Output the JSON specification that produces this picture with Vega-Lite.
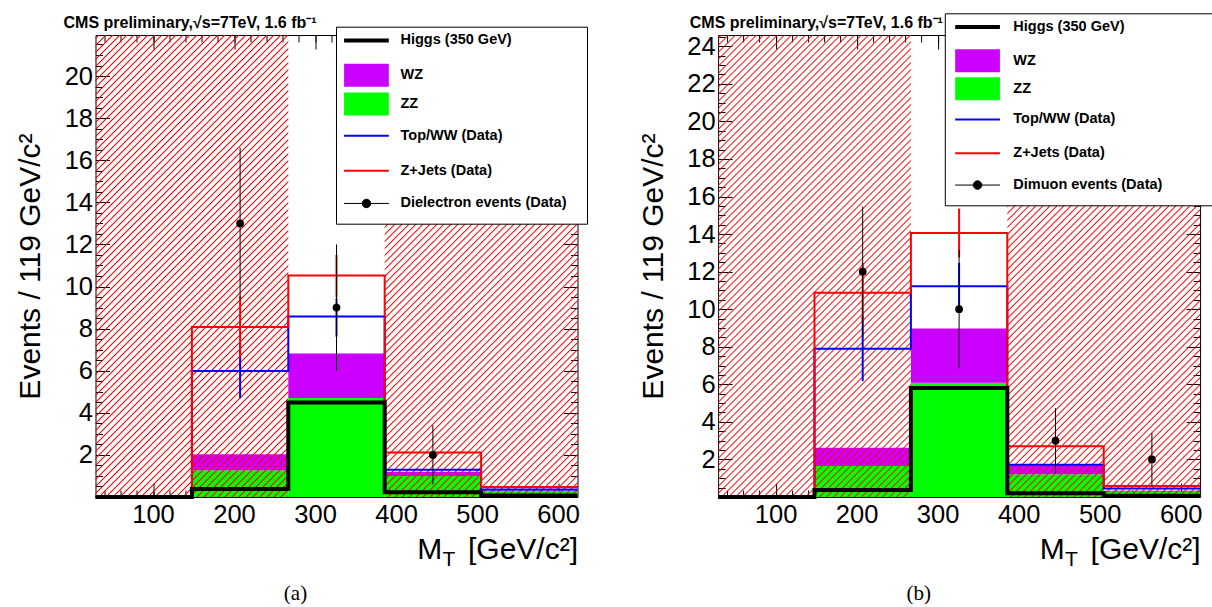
{
"$schema":"https://vega.github.io/schema/vega-lite/v6.json",
"background":"white",
"padding":{"left":15.5,"top":12,"right":0,"bottom":0},
"spacing":140.6,
"bounds":"flush",
"params":[{"name":"hatch","value":{"gradient":"linear","x1":0,"y1":0,"x2":0.5037,"y2":1.2071,"stops":[
{"offset":0.0032,"color":"#f000"},{"offset":0.0053,"color":"#f00"},{"offset":0.0074,"color":"#f000"},
{"offset":0.0139,"color":"#f000"},{"offset":0.016,"color":"#f00"},{"offset":0.0181,"color":"#f000"},
{"offset":0.0246,"color":"#f000"},{"offset":0.0267,"color":"#f00"},{"offset":0.0288,"color":"#f000"},
{"offset":0.0353,"color":"#f000"},{"offset":0.0374,"color":"#f00"},{"offset":0.0395,"color":"#f000"},
{"offset":0.046,"color":"#f000"},{"offset":0.0481,"color":"#f00"},{"offset":0.0502,"color":"#f000"},
{"offset":0.0567,"color":"#f000"},{"offset":0.0588,"color":"#f00"},{"offset":0.0609,"color":"#f000"},
{"offset":0.0673,"color":"#f000"},{"offset":0.0694,"color":"#f00"},{"offset":0.0715,"color":"#f000"},
{"offset":0.078,"color":"#f000"},{"offset":0.0801,"color":"#f00"},{"offset":0.0822,"color":"#f000"},
{"offset":0.0887,"color":"#f000"},{"offset":0.0908,"color":"#f00"},{"offset":0.0929,"color":"#f000"},
{"offset":0.0994,"color":"#f000"},{"offset":0.1015,"color":"#f00"},{"offset":0.1036,"color":"#f000"},
{"offset":0.1101,"color":"#f000"},{"offset":0.1122,"color":"#f00"},{"offset":0.1143,"color":"#f000"},
{"offset":0.1208,"color":"#f000"},{"offset":0.1229,"color":"#f00"},{"offset":0.125,"color":"#f000"},
{"offset":0.1315,"color":"#f000"},{"offset":0.1336,"color":"#f00"},{"offset":0.1357,"color":"#f000"},
{"offset":0.1422,"color":"#f000"},{"offset":0.1443,"color":"#f00"},{"offset":0.1464,"color":"#f000"},
{"offset":0.1529,"color":"#f000"},{"offset":0.155,"color":"#f00"},{"offset":0.1571,"color":"#f000"},
{"offset":0.1636,"color":"#f000"},{"offset":0.1657,"color":"#f00"},{"offset":0.1678,"color":"#f000"},
{"offset":0.1742,"color":"#f000"},{"offset":0.1763,"color":"#f00"},{"offset":0.1784,"color":"#f000"},
{"offset":0.1849,"color":"#f000"},{"offset":0.187,"color":"#f00"},{"offset":0.1891,"color":"#f000"},
{"offset":0.1956,"color":"#f000"},{"offset":0.1977,"color":"#f00"},{"offset":0.1998,"color":"#f000"},
{"offset":0.2063,"color":"#f000"},{"offset":0.2084,"color":"#f00"},{"offset":0.2105,"color":"#f000"},
{"offset":0.217,"color":"#f000"},{"offset":0.2191,"color":"#f00"},{"offset":0.2212,"color":"#f000"},
{"offset":0.2277,"color":"#f000"},{"offset":0.2298,"color":"#f00"},{"offset":0.2319,"color":"#f000"},
{"offset":0.2384,"color":"#f000"},{"offset":0.2405,"color":"#f00"},{"offset":0.2426,"color":"#f000"},
{"offset":0.2491,"color":"#f000"},{"offset":0.2512,"color":"#f00"},{"offset":0.2533,"color":"#f000"},
{"offset":0.2598,"color":"#f000"},{"offset":0.2619,"color":"#f00"},{"offset":0.264,"color":"#f000"},
{"offset":0.2705,"color":"#f000"},{"offset":0.2726,"color":"#f00"},{"offset":0.2747,"color":"#f000"},
{"offset":0.2811,"color":"#f000"},{"offset":0.2832,"color":"#f00"},{"offset":0.2853,"color":"#f000"},
{"offset":0.2918,"color":"#f000"},{"offset":0.2939,"color":"#f00"},{"offset":0.296,"color":"#f000"},
{"offset":0.3025,"color":"#f000"},{"offset":0.3046,"color":"#f00"},{"offset":0.3067,"color":"#f000"},
{"offset":0.3132,"color":"#f000"},{"offset":0.3153,"color":"#f00"},{"offset":0.3174,"color":"#f000"},
{"offset":0.3239,"color":"#f000"},{"offset":0.326,"color":"#f00"},{"offset":0.3281,"color":"#f000"},
{"offset":0.3346,"color":"#f000"},{"offset":0.3367,"color":"#f00"},{"offset":0.3388,"color":"#f000"},
{"offset":0.3453,"color":"#f000"},{"offset":0.3474,"color":"#f00"},{"offset":0.3495,"color":"#f000"},
{"offset":0.356,"color":"#f000"},{"offset":0.3581,"color":"#f00"},{"offset":0.3602,"color":"#f000"},
{"offset":0.3667,"color":"#f000"},{"offset":0.3688,"color":"#f00"},{"offset":0.3709,"color":"#f000"},
{"offset":0.3774,"color":"#f000"},{"offset":0.3795,"color":"#f00"},{"offset":0.3816,"color":"#f000"},
{"offset":0.388,"color":"#f000"},{"offset":0.3901,"color":"#f00"},{"offset":0.3922,"color":"#f000"},
{"offset":0.3987,"color":"#f000"},{"offset":0.4008,"color":"#f00"},{"offset":0.4029,"color":"#f000"},
{"offset":0.4094,"color":"#f000"},{"offset":0.4115,"color":"#f00"},{"offset":0.4136,"color":"#f000"},
{"offset":0.4201,"color":"#f000"},{"offset":0.4222,"color":"#f00"},{"offset":0.4243,"color":"#f000"},
{"offset":0.4308,"color":"#f000"},{"offset":0.4329,"color":"#f00"},{"offset":0.435,"color":"#f000"},
{"offset":0.4415,"color":"#f000"},{"offset":0.4436,"color":"#f00"},{"offset":0.4457,"color":"#f000"},
{"offset":0.4522,"color":"#f000"},{"offset":0.4543,"color":"#f00"},{"offset":0.4564,"color":"#f000"},
{"offset":0.4629,"color":"#f000"},{"offset":0.465,"color":"#f00"},{"offset":0.4671,"color":"#f000"},
{"offset":0.4736,"color":"#f000"},{"offset":0.4757,"color":"#f00"},{"offset":0.4778,"color":"#f000"},
{"offset":0.4843,"color":"#f000"},{"offset":0.4864,"color":"#f00"},{"offset":0.4885,"color":"#f000"},
{"offset":0.4949,"color":"#f000"},{"offset":0.497,"color":"#f00"},{"offset":0.4991,"color":"#f000"},
{"offset":0.5056,"color":"#f000"},{"offset":0.5077,"color":"#f00"},{"offset":0.5098,"color":"#f000"},
{"offset":0.5163,"color":"#f000"},{"offset":0.5184,"color":"#f00"},{"offset":0.5205,"color":"#f000"},
{"offset":0.527,"color":"#f000"},{"offset":0.5291,"color":"#f00"},{"offset":0.5312,"color":"#f000"},
{"offset":0.5377,"color":"#f000"},{"offset":0.5398,"color":"#f00"},{"offset":0.5419,"color":"#f000"},
{"offset":0.5484,"color":"#f000"},{"offset":0.5505,"color":"#f00"},{"offset":0.5526,"color":"#f000"},
{"offset":0.5591,"color":"#f000"},{"offset":0.5612,"color":"#f00"},{"offset":0.5633,"color":"#f000"},
{"offset":0.5698,"color":"#f000"},{"offset":0.5719,"color":"#f00"},{"offset":0.574,"color":"#f000"},
{"offset":0.5805,"color":"#f000"},{"offset":0.5826,"color":"#f00"},{"offset":0.5847,"color":"#f000"},
{"offset":0.5912,"color":"#f000"},{"offset":0.5933,"color":"#f00"},{"offset":0.5954,"color":"#f000"},
{"offset":0.6018,"color":"#f000"},{"offset":0.6039,"color":"#f00"},{"offset":0.606,"color":"#f000"},
{"offset":0.6125,"color":"#f000"},{"offset":0.6146,"color":"#f00"},{"offset":0.6167,"color":"#f000"},
{"offset":0.6232,"color":"#f000"},{"offset":0.6253,"color":"#f00"},{"offset":0.6274,"color":"#f000"},
{"offset":0.6339,"color":"#f000"},{"offset":0.636,"color":"#f00"},{"offset":0.6381,"color":"#f000"},
{"offset":0.6446,"color":"#f000"},{"offset":0.6467,"color":"#f00"},{"offset":0.6488,"color":"#f000"},
{"offset":0.6553,"color":"#f000"},{"offset":0.6574,"color":"#f00"},{"offset":0.6595,"color":"#f000"},
{"offset":0.666,"color":"#f000"},{"offset":0.6681,"color":"#f00"},{"offset":0.6702,"color":"#f000"},
{"offset":0.6767,"color":"#f000"},{"offset":0.6788,"color":"#f00"},{"offset":0.6809,"color":"#f000"},
{"offset":0.6874,"color":"#f000"},{"offset":0.6895,"color":"#f00"},{"offset":0.6916,"color":"#f000"},
{"offset":0.6981,"color":"#f000"},{"offset":0.7002,"color":"#f00"},{"offset":0.7023,"color":"#f000"},
{"offset":0.7087,"color":"#f000"},{"offset":0.7108,"color":"#f00"},{"offset":0.7129,"color":"#f000"},
{"offset":0.7194,"color":"#f000"},{"offset":0.7215,"color":"#f00"},{"offset":0.7236,"color":"#f000"},
{"offset":0.7301,"color":"#f000"},{"offset":0.7322,"color":"#f00"},{"offset":0.7343,"color":"#f000"},
{"offset":0.7408,"color":"#f000"},{"offset":0.7429,"color":"#f00"},{"offset":0.745,"color":"#f000"},
{"offset":0.7515,"color":"#f000"},{"offset":0.7536,"color":"#f00"},{"offset":0.7557,"color":"#f000"},
{"offset":0.7622,"color":"#f000"},{"offset":0.7643,"color":"#f00"},{"offset":0.7664,"color":"#f000"},
{"offset":0.7729,"color":"#f000"},{"offset":0.775,"color":"#f00"},{"offset":0.7771,"color":"#f000"},
{"offset":0.7836,"color":"#f000"},{"offset":0.7857,"color":"#f00"},{"offset":0.7878,"color":"#f000"},
{"offset":0.7943,"color":"#f000"},{"offset":0.7964,"color":"#f00"},{"offset":0.7985,"color":"#f000"},
{"offset":0.805,"color":"#f000"},{"offset":0.8071,"color":"#f00"},{"offset":0.8092,"color":"#f000"},
{"offset":0.8156,"color":"#f000"},{"offset":0.8177,"color":"#f00"},{"offset":0.8198,"color":"#f000"},
{"offset":0.8263,"color":"#f000"},{"offset":0.8284,"color":"#f00"},{"offset":0.8305,"color":"#f000"},
{"offset":0.837,"color":"#f000"},{"offset":0.8391,"color":"#f00"},{"offset":0.8412,"color":"#f000"},
{"offset":0.8477,"color":"#f000"},{"offset":0.8498,"color":"#f00"},{"offset":0.8519,"color":"#f000"},
{"offset":0.8584,"color":"#f000"},{"offset":0.8605,"color":"#f00"},{"offset":0.8626,"color":"#f000"},
{"offset":0.8691,"color":"#f000"},{"offset":0.8712,"color":"#f00"},{"offset":0.8733,"color":"#f000"},
{"offset":0.8798,"color":"#f000"},{"offset":0.8819,"color":"#f00"},{"offset":0.884,"color":"#f000"},
{"offset":0.8905,"color":"#f000"},{"offset":0.8926,"color":"#f00"},{"offset":0.8947,"color":"#f000"},
{"offset":0.9012,"color":"#f000"},{"offset":0.9033,"color":"#f00"},{"offset":0.9054,"color":"#f000"},
{"offset":0.9119,"color":"#f000"},{"offset":0.914,"color":"#f00"},{"offset":0.9161,"color":"#f000"},
{"offset":0.9225,"color":"#f000"},{"offset":0.9246,"color":"#f00"},{"offset":0.9267,"color":"#f000"},
{"offset":0.9332,"color":"#f000"},{"offset":0.9353,"color":"#f00"},{"offset":0.9374,"color":"#f000"},
{"offset":0.9439,"color":"#f000"},{"offset":0.946,"color":"#f00"},{"offset":0.9481,"color":"#f000"},
{"offset":0.9546,"color":"#f000"},{"offset":0.9567,"color":"#f00"},{"offset":0.9588,"color":"#f000"},
{"offset":0.9653,"color":"#f000"},{"offset":0.9674,"color":"#f00"},{"offset":0.9695,"color":"#f000"},
{"offset":0.976,"color":"#f000"},{"offset":0.9781,"color":"#f00"},{"offset":0.9802,"color":"#f000"},
{"offset":0.9867,"color":"#f000"},{"offset":0.9888,"color":"#f00"},{"offset":0.9909,"color":"#f000"},
{"offset":0.9974,"color":"#f000"},{"offset":0.9995,"color":"#f00"},{"offset":1,"color":"#f000"}
]}}],
"resolve":{"scale":{"color":"independent"},"legend":{"color":"independent"}},
"datasets":{
"fa":[{"series":"ZZ","lo":148,"hi":267,"b":0,"t":1.27},{"series":"ZZ","lo":267,"hi":386,"b":0,"t":4.7},{"series":"ZZ","lo":386,"hi":505,"b":0,"t":1.0},{"series":"ZZ","lo":505,"hi":624,"b":0,"t":0.27},{"series":"WZ","lo":148,"hi":267,"b":1.27,"t":2.03},{"series":"WZ","lo":267,"hi":386,"b":4.7,"t":6.82},{"series":"WZ","lo":386,"hi":505,"b":1.0,"t":1.2},{"series":"WZ","lo":505,"hi":624,"b":0.27,"t":0.31}],
"fb":[{"series":"ZZ","lo":148,"hi":267,"b":0,"t":1.65},{"series":"ZZ","lo":267,"hi":386,"b":0,"t":6.08},{"series":"ZZ","lo":386,"hi":505,"b":0,"t":1.21},{"series":"ZZ","lo":505,"hi":624,"b":0,"t":0.28},{"series":"WZ","lo":148,"hi":267,"b":1.65,"t":2.62},{"series":"WZ","lo":267,"hi":386,"b":6.08,"t":8.97},{"series":"WZ","lo":386,"hi":505,"b":1.21,"t":1.69},{"series":"WZ","lo":505,"hi":624,"b":0.28,"t":0.33}],
"ha":[{"lo":29,"hi":267,"b":0,"t":21.95},{"lo":386,"hi":624,"b":0,"t":21.95}],
"hb":[{"lo":29,"hi":267,"b":0,"t":24.6},{"lo":386,"hi":624,"b":0,"t":24.6}],
"sa":[{"s":"Top/WW (Data)","e":29,"v":0},{"s":"Top/WW (Data)","e":148,"v":5.99},{"s":"Top/WW (Data)","e":267,"v":8.57},{"s":"Top/WW (Data)","e":386,"v":1.3},{"s":"Top/WW (Data)","e":505,"v":0.36},{"s":"Top/WW (Data)","e":624,"v":0.36},
{"s":"Z+Jets (Data)","e":29,"v":0},{"s":"Z+Jets (Data)","e":148,"v":8.08},{"s":"Z+Jets (Data)","e":267,"v":10.52},{"s":"Z+Jets (Data)","e":386,"v":2.11},{"s":"Z+Jets (Data)","e":505,"v":0.47},{"s":"Z+Jets (Data)","e":624,"v":0.47},
{"s":"Higgs","e":29,"v":0},{"s":"Higgs","e":148,"v":0.38},{"s":"Higgs","e":267,"v":4.49},{"s":"Higgs","e":386,"v":0.22},{"s":"Higgs","e":505,"v":0.07},{"s":"Higgs","e":624,"v":0.07}],
"sb":[{"s":"Top/WW (Data)","e":29,"v":0},{"s":"Top/WW (Data)","e":148,"v":7.89},{"s":"Top/WW (Data)","e":267,"v":11.22},{"s":"Top/WW (Data)","e":386,"v":1.72},{"s":"Top/WW (Data)","e":505,"v":0.45},{"s":"Top/WW (Data)","e":624,"v":0.45},
{"s":"Z+Jets (Data)","e":29,"v":0},{"s":"Z+Jets (Data)","e":148,"v":10.87},{"s":"Z+Jets (Data)","e":267,"v":14.06},{"s":"Z+Jets (Data)","e":386,"v":2.7},{"s":"Z+Jets (Data)","e":505,"v":0.59},{"s":"Z+Jets (Data)","e":624,"v":0.59},
{"s":"Higgs","e":29,"v":0},{"s":"Higgs","e":148,"v":0.37},{"s":"Higgs","e":267,"v":5.81},{"s":"Higgs","e":386,"v":0.2},{"s":"Higgs","e":505,"v":0.07},{"s":"Higgs","e":624,"v":0.07}],
"ea":[{"s":"Top/WW (Data)","x":207.5,"lo":4.69,"hi":7.29},{"s":"Z+Jets (Data)","x":207.5,"lo":6.63,"hi":9.53},{"s":"Top/WW (Data)","x":326.5,"lo":7.62,"hi":9.44},{"s":"Z+Jets (Data)","x":326.5,"lo":9.5,"hi":11.5},{"s":"data","x":207.5,"lo":9.4,"hi":16.6,"v":13},{"s":"data","x":326.5,"lo":6,"hi":12,"v":9},{"s":"data","x":445.5,"lo":0.59,"hi":3.41,"v":2}],
"eb":[{"s":"Top/WW (Data)","x":207.5,"lo":6.17,"hi":9.61},{"s":"Z+Jets (Data)","x":207.5,"lo":9.3,"hi":12.45},{"s":"Top/WW (Data)","x":326.5,"lo":9.98,"hi":12.46},{"s":"Z+Jets (Data)","x":326.5,"lo":12.76,"hi":15.36},{"s":"data","x":207.5,"lo":8.54,"hi":15.46,"v":12},{"s":"data","x":326.5,"lo":6.84,"hi":13.16,"v":10},{"s":"data","x":445.5,"lo":1.27,"hi":4.73,"v":3},{"s":"data","x":564.5,"lo":0.59,"hi":3.41,"v":2}]
},
"hconcat":[
{
"width":482,"height":462,
"title":{"text":"(a)","orient":"bottom","anchor":"middle","frame":"group","dx":-41,"offset":14,"font":"Liberation Serif","fontSize":21,"fontWeight":"normal","color":"black"},
"resolve":{"axis":{"x":"independent","y":"independent"}},
"layer":[
{"data":{"name":"fa"},"mark":{"type":"rect"},
"encoding":{
"x":{"field":"lo","type":"quantitative","scale":{"domain":[29,624],"nice":false,"zero":false},"axis":{"orient":"bottom","values":[100,200,300,400,500,600],"tickSize":-14,"labelPadding":19,"domain":true,"title":"[GeV/c²]","titleX":482,"titleY":61,"titleAlign":"right","titleBaseline":"alphabetic","titleAngle":0}},
"x2":{"field":"hi"},
"y":{"field":"b","type":"quantitative","scale":{"domain":[0,21.95],"nice":false,"zero":true},"axis":{"orient":"left","values":[2,4,6,8,10,12,14,16,18,20],"tickSize":-14,"labelPadding":17,"domain":true,"title":"Events / 119 GeV/c²","titleX":-56,"titleY":231,"titleAngle":270,"titleAlign":"center","titleBaseline":"alphabetic"}},
"y2":{"field":"t"},
"color":{"field":"series","type":"nominal","scale":{"domain":["Higgs (350 GeV)","WZ","ZZ","Top/WW (Data)","Z+Jets (Data)","Dielectron events (Data)"],"range":["black","#cc00ff","#00ff00","blue","red","black"]},
"legend":{"orient":"none","legendX":240.5,"legendY":-8.3,"title":null,"direction":"vertical","fillColor":"white","strokeColor":"black","padding":6.5,"rowPadding":4.8,"symbolSize":2000,"symbolStrokeWidth":0,"symbolOffset":16.7,"labelOffset":26.8,"labelFont":"Liberation Sans","labelFontSize":14.5,"labelFontWeight":"bold","labelColor":"black","labelLimit":400,"zindex":2,
"encode":{"symbols":{"update":{
"shape":{"signal":"datum.value==='WZ'||datum.value==='ZZ'?'M-1,-0.514H1V0.514H-1Z':datum.value==='Higgs (350 GeV)'?'M-1,-0.425M-1,0H1M1,0.425M9.2,0':datum.value==='Dielectron events (Data)'?'M-1,-0.492M-1,0H1M1,0.492M-0.19,0A0.19,0.19,0,1,1,0.19,0A0.19,0.19,0,1,1,-0.19,0Z':'M-1,-0.47M-1,0H1M1,0.47'"},
"fill":{"signal":"datum.value==='WZ'?'#cc00ff':datum.value==='ZZ'?'#00ff00':datum.value==='Dielectron events (Data)'?'black':null"},
"stroke":{"signal":"datum.value==='Higgs (350 GeV)'?'black':datum.value==='Top/WW (Data)'?'blue':datum.value==='Z+Jets (Data)'?'red':datum.value==='Dielectron events (Data)'?'black':null"},
"strokeWidth":{"signal":"datum.value==='Higgs (350 GeV)'?4:datum.value==='Dielectron events (Data)'?1:2"},
"opacity":{"value":1},"fillOpacity":{"value":1}}}}}}
}},
{"data":{"name":"ha"},"mark":{"type":"rect","fill":{"expr":"hatch"},"stroke":null},
"encoding":{
"x":{"field":"lo","type":"quantitative","axis":{"orient":"bottom","values":[40,60,80,100,120,140,160,180,200,220,240,260,280,300,320,340,360,380,400,420,440,460,480,500,520,540,560,580,600,620],"tickSize":-7,"labels":false,"domain":false,"title":"M","titleX":321.2,"titleY":61,"titleAlign":"left","titleBaseline":"alphabetic","titleAngle":0}},
"x2":{"field":"hi"},
"y":{"field":"b","type":"quantitative","axis":{"orient":"left","values":[0.5,1,1.5,2,2.5,3,3.5,4,4.5,5,5.5,6,6.5,7,7.5,8,8.5,9,9.5,10,10.5,11,11.5,12,12.5,13,13.5,14,14.5,15,15.5,16,16.5,17,17.5,18,18.5,19,19.5,20,20.5,21,21.5],"tickSize":-7,"labels":false,"domain":false,"title":null}},
"y2":{"field":"t"}}},
{"data":{"name":"sa"},"transform":[{"filter":"datum.s==='Top/WW (Data)'"}],"mark":{"type":"line","interpolate":"step-after","color":"blue","strokeWidth":2},
"encoding":{
"x":{"field":"e","type":"quantitative","axis":{"orient":"top","values":[100,200,300,400,500,600],"tickSize":-14,"labels":false,"domain":true,"title":"CMS preliminary,√s=7TeV, 1.6 fb⁻¹","titleX":-32.5,"titleY":-8,"titleAlign":"left","titleBaseline":"alphabetic","titleAngle":0,"titleFontSize":16,"titleFontWeight":"bold"}},
"y":{"field":"v","type":"quantitative","axis":{"orient":"right","values":[2,4,6,8,10,12,14,16,18,20],"tickSize":-14,"labels":false,"domain":true,"title":null}}}},
{"data":{"name":"sa"},"transform":[{"filter":"datum.s==='Z+Jets (Data)'"}],"mark":{"type":"line","interpolate":"step-after","color":"red","strokeWidth":2},
"encoding":{
"x":{"field":"e","type":"quantitative","axis":{"orient":"top","values":[40,60,80,100,120,140,160,180,200,220,240,260,280,300,320,340,360,380,400,420,440,460,480,500,520,540,560,580,600,620],"tickSize":-7,"labels":false,"domain":false,"title":null}},
"y":{"field":"v","type":"quantitative","axis":{"orient":"right","values":[0.5,1,1.5,2,2.5,3,3.5,4,4.5,5,5.5,6,6.5,7,7.5,8,8.5,9,9.5,10,10.5,11,11.5,12,12.5,13,13.5,14,14.5,15,15.5,16,16.5,17,17.5,18,18.5,19,19.5,20,20.5,21,21.5],"tickSize":-7,"labels":false,"domain":false,"title":null}}}},
{"data":{"name":"sa"},"transform":[{"filter":"datum.s==='Higgs'"}],"mark":{"type":"line","interpolate":"step-after","color":"black","strokeWidth":4},
"encoding":{
"x":{"field":"e","type":"quantitative","axis":{"orient":"bottom","ticks":false,"labels":false,"domain":false,"title":"T","titleX":346.5,"titleY":68,"titleAlign":"left","titleBaseline":"alphabetic","titleAngle":0,"titleFontSize":21}},
"y":{"field":"v","type":"quantitative","axis":null}}},
{"data":{"name":"ea"},"mark":{"type":"rule"},
"encoding":{
"x":{"field":"x","type":"quantitative","axis":null},
"y":{"field":"lo","type":"quantitative","axis":null},
"y2":{"field":"hi"},
"stroke":{"condition":[{"test":"datum.s==='Top/WW (Data)'","value":"blue"},{"test":"datum.s==='Z+Jets (Data)'","value":"red"}],"value":"black"},
"strokeWidth":{"condition":{"test":"datum.s==='data'","value":1},"value":2}}},
{"data":{"name":"ea"},"transform":[{"filter":"datum.s==='data'"}],"mark":{"type":"circle","size":60,"color":"black","opacity":1},
"encoding":{
"x":{"field":"x","type":"quantitative","axis":null},
"y":{"field":"v","type":"quantitative","axis":null}}}
]
},
{
"width":482,"height":462,
"title":{"text":"(b)","orient":"bottom","anchor":"middle","frame":"group","dx":-40.3,"offset":14,"font":"Liberation Serif","fontSize":21,"fontWeight":"normal","color":"black"},
"resolve":{"axis":{"x":"independent","y":"independent"}},
"layer":[
{"data":{"name":"fb"},"mark":{"type":"rect"},
"encoding":{
"x":{"field":"lo","type":"quantitative","scale":{"domain":[29,624],"nice":false,"zero":false},"axis":{"orient":"bottom","values":[100,200,300,400,500,600],"tickSize":-14,"labelPadding":19,"domain":true,"title":"[GeV/c²]","titleX":482,"titleY":61,"titleAlign":"right","titleBaseline":"alphabetic","titleAngle":0}},
"x2":{"field":"hi"},
"y":{"field":"b","type":"quantitative","scale":{"domain":[0,24.6],"nice":false,"zero":true},"axis":{"orient":"left","values":[2,4,6,8,10,12,14,16,18,20,22,24],"tickSize":-14,"labelPadding":17,"domain":true,"title":"Events / 119 GeV/c²","titleX":-56,"titleY":231,"titleAngle":270,"titleAlign":"center","titleBaseline":"alphabetic"}},
"y2":{"field":"t"},
"color":{"field":"series","type":"nominal","scale":{"domain":["Higgs (350 GeV)","WZ","ZZ","Top/WW (Data)","Z+Jets (Data)","Dimuon events (Data)"],"range":["black","#cc00ff","#00ff00","blue","red","black"]},
"legend":{"orient":"none","legendX":226.7,"legendY":-21.7,"title":null,"direction":"vertical","fillColor":"white","strokeColor":"black","padding":6.5,"rowPadding":3.8,"symbolSize":2000,"symbolStrokeWidth":0,"symbolOffset":19,"labelOffset":28.5,"labelFont":"Liberation Sans","labelFontSize":14.5,"labelFontWeight":"bold","labelColor":"black","labelLimit":400,"zindex":2,
"encode":{"symbols":{"update":{
"shape":{"signal":"datum.value==='WZ'||datum.value==='ZZ'?'M-1,-0.514H1V0.514H-1Z':datum.value==='Higgs (350 GeV)'?'M-1,-0.425M-1,0H1M1,0.425M9.91,0':datum.value==='Dimuon events (Data)'?'M-1,-0.492M-1,0H1M1,0.492M-0.19,0A0.19,0.19,0,1,1,0.19,0A0.19,0.19,0,1,1,-0.19,0Z':'M-1,-0.47M-1,0H1M1,0.47'"},
"fill":{"signal":"datum.value==='WZ'?'#cc00ff':datum.value==='ZZ'?'#00ff00':datum.value==='Dimuon events (Data)'?'black':null"},
"stroke":{"signal":"datum.value==='Higgs (350 GeV)'?'black':datum.value==='Top/WW (Data)'?'blue':datum.value==='Z+Jets (Data)'?'red':datum.value==='Dimuon events (Data)'?'black':null"},
"strokeWidth":{"signal":"datum.value==='Higgs (350 GeV)'?4:datum.value==='Dimuon events (Data)'?1:2"},
"opacity":{"value":1},"fillOpacity":{"value":1}}}}}}
}},
{"data":{"name":"hb"},"mark":{"type":"rect","fill":{"expr":"hatch"},"stroke":null},
"encoding":{
"x":{"field":"lo","type":"quantitative","axis":{"orient":"bottom","values":[40,60,80,100,120,140,160,180,200,220,240,260,280,300,320,340,360,380,400,420,440,460,480,500,520,540,560,580,600,620],"tickSize":-7,"labels":false,"domain":false,"title":"M","titleX":321.2,"titleY":61,"titleAlign":"left","titleBaseline":"alphabetic","titleAngle":0}},
"x2":{"field":"hi"},
"y":{"field":"b","type":"quantitative","axis":{"orient":"left","values":[0.5,1,1.5,2,2.5,3,3.5,4,4.5,5,5.5,6,6.5,7,7.5,8,8.5,9,9.5,10,10.5,11,11.5,12,12.5,13,13.5,14,14.5,15,15.5,16,16.5,17,17.5,18,18.5,19,19.5,20,20.5,21,21.5,22,22.5,23,23.5,24,24.5],"tickSize":-7,"labels":false,"domain":false,"title":null}},
"y2":{"field":"t"}}},
{"data":{"name":"sb"},"transform":[{"filter":"datum.s==='Top/WW (Data)'"}],"mark":{"type":"line","interpolate":"step-after","color":"blue","strokeWidth":2},
"encoding":{
"x":{"field":"e","type":"quantitative","axis":{"orient":"top","values":[100,200,300,400,500,600],"tickSize":-14,"labels":false,"domain":true,"title":"CMS preliminary,√s=7TeV, 1.6 fb⁻¹","titleX":-28.8,"titleY":-8,"titleAlign":"left","titleBaseline":"alphabetic","titleAngle":0,"titleFontSize":16,"titleFontWeight":"bold"}},
"y":{"field":"v","type":"quantitative","axis":{"orient":"right","values":[2,4,6,8,10,12,14,16,18,20,22,24],"tickSize":-14,"labels":false,"domain":true,"title":null}}}},
{"data":{"name":"sb"},"transform":[{"filter":"datum.s==='Z+Jets (Data)'"}],"mark":{"type":"line","interpolate":"step-after","color":"red","strokeWidth":2},
"encoding":{
"x":{"field":"e","type":"quantitative","axis":{"orient":"top","values":[40,60,80,100,120,140,160,180,200,220,240,260,280,300,320,340,360,380,400,420,440,460,480,500,520,540,560,580,600,620],"tickSize":-7,"labels":false,"domain":false,"title":null}},
"y":{"field":"v","type":"quantitative","axis":{"orient":"right","values":[0.5,1,1.5,2,2.5,3,3.5,4,4.5,5,5.5,6,6.5,7,7.5,8,8.5,9,9.5,10,10.5,11,11.5,12,12.5,13,13.5,14,14.5,15,15.5,16,16.5,17,17.5,18,18.5,19,19.5,20,20.5,21,21.5,22,22.5,23,23.5,24,24.5],"tickSize":-7,"labels":false,"domain":false,"title":null}}}},
{"data":{"name":"sb"},"transform":[{"filter":"datum.s==='Higgs'"}],"mark":{"type":"line","interpolate":"step-after","color":"black","strokeWidth":4},
"encoding":{
"x":{"field":"e","type":"quantitative","axis":{"orient":"bottom","ticks":false,"labels":false,"domain":false,"title":"T","titleX":346.5,"titleY":68,"titleAlign":"left","titleBaseline":"alphabetic","titleAngle":0,"titleFontSize":21}},
"y":{"field":"v","type":"quantitative","axis":null}}},
{"data":{"name":"eb"},"mark":{"type":"rule"},
"encoding":{
"x":{"field":"x","type":"quantitative","axis":null},
"y":{"field":"lo","type":"quantitative","axis":null},
"y2":{"field":"hi"},
"stroke":{"condition":[{"test":"datum.s==='Top/WW (Data)'","value":"blue"},{"test":"datum.s==='Z+Jets (Data)'","value":"red"}],"value":"black"},
"strokeWidth":{"condition":{"test":"datum.s==='data'","value":1},"value":2}}},
{"data":{"name":"eb"},"transform":[{"filter":"datum.s==='data'"}],"mark":{"type":"circle","size":60,"color":"black","opacity":1},
"encoding":{
"x":{"field":"x","type":"quantitative","axis":null},
"y":{"field":"v","type":"quantitative","axis":null}}}
]
}
],
"config":{
"view":{"stroke":null},
"font":"Liberation Sans",
"axis":{"grid":false,"zindex":1,"domainColor":"black","domainWidth":1,"tickColor":"black","tickWidth":1,"labelColor":"black","labelFont":"Liberation Sans","labelFontSize":25.5,"labelFlush":false,"labelOverlap":false,"titleColor":"black","titleFont":"Liberation Sans","titleFontSize":30,"titleFontWeight":"normal"}
}
}
